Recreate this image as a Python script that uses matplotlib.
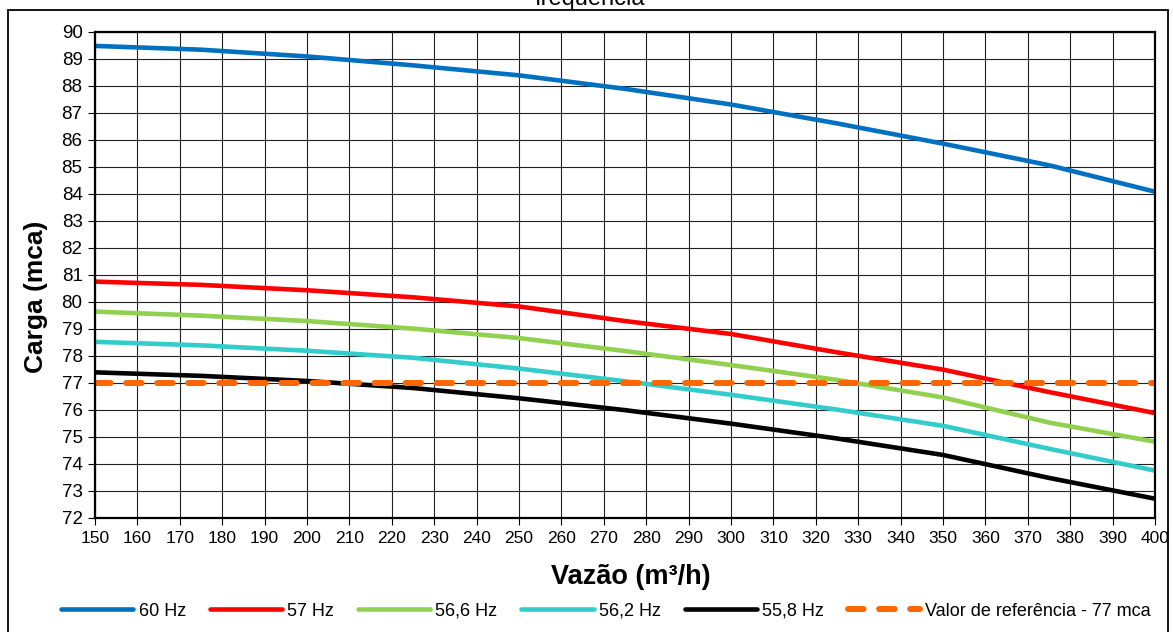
import matplotlib
matplotlib.use("Agg")
from matplotlib import pyplot as plt
from matplotlib.patches import Rectangle

plt.rcParams['font.family'] = ['Liberation Sans', 'DejaVu Sans']

# vazão (m³/h) e carga (mca) para cada frequência
vazao = [150, 175, 200, 225, 250, 275, 300, 325, 350, 375, 400]
carga_60 = [89.47, 89.33, 89.08, 88.75, 88.38, 87.88, 87.30, 86.60, 85.85, 85.05, 84.07]
carga_57 = [80.74, 80.62, 80.42, 80.16, 79.82, 79.28, 78.80, 78.12, 77.48, 76.65, 75.87]
carga_566 = [79.63, 79.48, 79.28, 79.00, 78.65, 78.17, 77.65, 77.10, 76.45, 75.52, 74.81]
carga_562 = [78.51, 78.38, 78.18, 77.92, 77.52, 77.05, 76.55, 76.00, 75.40, 74.55, 73.74]
carga_558 = [77.38, 77.25, 77.06, 76.80, 76.42, 75.98, 75.48, 74.93, 74.32, 73.47, 72.70]
referencia = 77

fig = plt.figure(figsize=(11.73, 6.32), dpi=100)
ax = fig.add_axes([0.081, 0.181, 0.9037, 0.769])

ax.plot(vazao, carga_60, c='#0070C0', lw=3.3, label='60 Hz', solid_capstyle='round')
ax.plot(vazao, carga_57, c='#FF0000', lw=3.3, label='57 Hz', solid_capstyle='round')
ax.plot(vazao, carga_566, c='#92D050', lw=3.3, label='56,6 Hz', solid_capstyle='round')
ax.plot(vazao, carga_562, c='#33CCCC', lw=3.3, label='56,2 Hz', solid_capstyle='round')
ax.plot(vazao, carga_558, c='black', lw=3.3, label='55,8 Hz', solid_capstyle='round')
ax.plot([vazao[0], vazao[-1]], [referencia, referencia], c='#FF6600', lw=4.3,
        dashes=(2.6, 2.6), dash_capstyle='round', label='Valor de referência - 77 mca')

ax.set_xlim(150, 400)
ax.set_ylim(72, 90)
ax.set_xticks(range(150, 401, 10))
ax.set_yticks(range(72, 91, 1))
ax.grid(True, color='#222222', lw=0.8)
ax.set_axisbelow(True)
for s in ax.spines.values():
    s.set_linewidth(1.6)
ax.tick_params(axis='x', labelsize=12.5, length=5, width=0.8, direction='out', pad=5)
ax.tick_params(axis='y', labelsize=13.5, length=5, width=0.8, direction='out', pad=4)

ax.set_xlabel('Vazão (m³/h)', fontsize=19.5, fontweight='bold')
ax.set_ylabel('Carga (mca)', fontsize=19, fontweight='bold')
ax.xaxis.set_label_coords(0.505, -0.096)
ax.yaxis.set_label_coords(-0.044, 0.455)

fig.legend(loc='center', bbox_to_anchor=(606 / 1173, 1 - 611 / 632), ncol=6, frameon=False,
           fontsize=13, handlelength=4.0, handletextpad=0.28, columnspacing=1.33,
           borderpad=0, borderaxespad=0)

# moldura externa do gráfico e título (parcial no topo)
fig.patches.append(Rectangle((8 / 1173, -0.05), 1160 / 1173, 1.05 - 10 / 632,
                             transform=fig.transFigure, fill=False, ec='black', lw=1.3))
fig.text(0.503, 1 - 5 / 632, 'frequência', ha='center', va='baseline', fontsize=17)

fig.savefig('out.png', dpi=100)
